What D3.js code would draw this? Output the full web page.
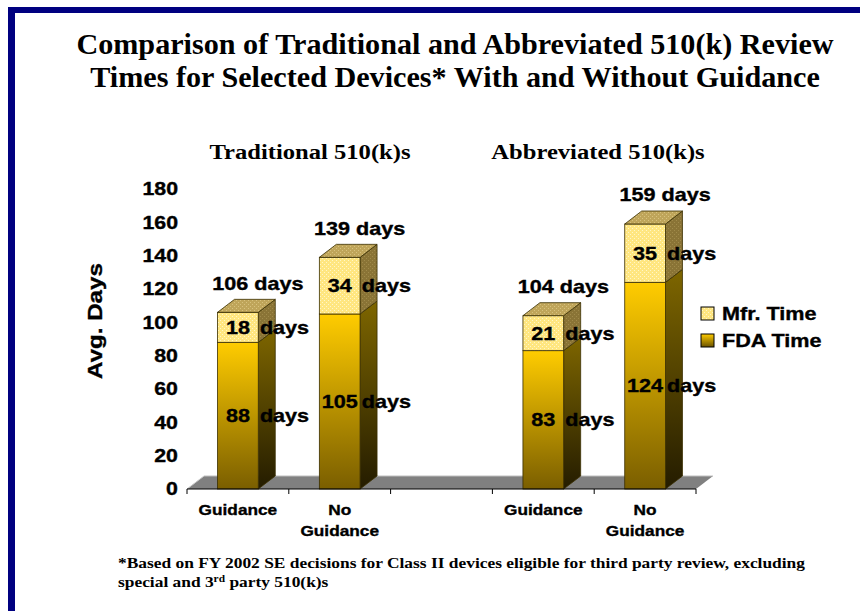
<!DOCTYPE html>
<html>
<head>
<meta charset="utf-8">
<script src="https://cdn.jsdelivr.net/npm/d3@7/dist/d3.min.js"></script>
<style>
  html, body { margin: 0; padding: 0; background: #fff; }
  svg { display: block; }
</style>
</head>
<body>
<svg id="chart" width="860" height="611"></svg>
<script>
// Chart data
const categories = ['Guidance', 'No Guidance', '', 'Guidance', 'No Guidance'];
const groupTitles = ['Traditional 510(k)s', 'Abbreviated 510(k)s'];
const fdaTime = [88, 105, null, 83, 124];
const mfrTime = [18, 34, null, 21, 35];
const totalDays = [106, 139, null, 104, 159];
const yTicks = [0, 20, 40, 60, 80, 100, 120, 140, 160, 180];
const seriesNames = ['Mfr. Time', 'FDA Time'];

const svg = d3.select('#chart');
const W = 860, H = 611;
const SANS = '"Liberation Sans", Arial, sans-serif';
const SERIF = '"Liberation Serif", "Times New Roman", serif';

// frame
svg.append('rect').attr('x', 8).attr('y', 7).attr('width', W - 8).attr('height', 6).attr('fill', '#000080');
svg.append('rect').attr('x', 8).attr('y', 7).attr('width', 7).attr('height', H - 7).attr('fill', '#000080');

// scales
const x = d3.scaleBand().domain(d3.range(categories.length)).range([187, 696]);
const y = d3.scaleLinear().domain([0, 180]).range([489, 189]);
const barW = x.bandwidth() * 0.4;
const depthX = 17, depthY = -13;

// stretched text helper (the source glyphs are wider than normal)
function label(g, px, py, txt, size, sx, anchor, family) {
    const t = g.append('text')
        .attr('transform', `translate(${px},${py}) scale(${sx},1)`)
        .attr('text-anchor', anchor)
        .attr('dominant-baseline', 'central')
        .attr('font-family', family || SANS)
        .attr('font-weight', 'bold')
        .attr('font-size', size)
        .attr('fill', '#000')
        .text(txt);
    if (!family) t.attr('stroke', '#000').attr('stroke-width', 0.35);
    return t;
}

// title
label(svg, 455, 44, 'Comparison of Traditional and Abbreviated 510(k) Review', 29, 1.04, 'middle', SERIF);
label(svg, 455, 77, 'Times for Selected Devices* With and Without Guidance', 29, 1.04, 'middle', SERIF);

// defs: dotted fills and gradients
const defs = svg.append('defs');
function dots(id, base, dot) {
    const p = defs.append('pattern').attr('id', id).attr('width', 4).attr('height', 4)
        .attr('patternUnits', 'userSpaceOnUse');
    p.append('rect').attr('width', 4).attr('height', 4).attr('fill', base);
    p.append('rect').attr('x', 0).attr('y', 0).attr('width', 1).attr('height', 1).attr('fill', dot);
    p.append('rect').attr('x', 2).attr('y', 2).attr('width', 1).attr('height', 1).attr('fill', dot);
}
dots('mfrFront', '#FFE680', '#FFF6C8');
dots('mfrTop', '#BFA55A', '#D8C27E');
dots('mfrSide', '#8A7436', '#A08A4A');

function vgrad(id, top, bottom) {
    const g = defs.append('linearGradient').attr('id', id)
        .attr('x1', 0).attr('y1', 0).attr('x2', 0).attr('y2', 1);
    g.append('stop').attr('offset', '0%').attr('stop-color', top);
    g.append('stop').attr('offset', '100%').attr('stop-color', bottom);
}
vgrad('fdaFront', '#FFCC00', '#7A5E00');
vgrad('fdaSide', '#7E6600', '#241C00');
vgrad('fdaLegend', '#FFCC00', '#6A5200');

// floor
const x0 = x.range()[0], x1 = x.range()[1], yb = y(0);
svg.append('polygon')
    .attr('points', [[x0, yb], [x1, yb], [x1 + depthX, yb + depthY], [x0 + depthX, yb + depthY]].join(' '))
    .attr('fill', '#808080');
svg.append('line')
    .attr('x1', x0).attr('y1', yb).attr('x2', x0 + depthX).attr('y2', yb + depthY)
    .attr('stroke', '#C8C8C8').attr('stroke-width', 1);
svg.append('line')
    .attr('x1', x0 + depthX).attr('y1', yb + depthY).attr('x2', x1 + depthX).attr('y2', yb + depthY)
    .attr('stroke', '#BEBEBE').attr('stroke-width', 1);

// bars
const bars = svg.append('g');
const edge = '#3A2E00';
categories.forEach((c, i) => {
    if (fdaTime[i] == null) return;
    const bx = x(i) + (x.bandwidth() - barW) / 2;
    const segs = [
        { lo: 0, hi: fdaTime[i], front: 'url(#fdaFront)', side: 'url(#fdaSide)' },
        { lo: fdaTime[i], hi: fdaTime[i] + mfrTime[i], front: 'url(#mfrFront)', side: 'url(#mfrSide)' }
    ];
    segs.forEach(s => {
        const yt = y(s.hi), ybot = y(s.lo);
        bars.append('polygon')
            .attr('points', [[bx + barW, yt], [bx + barW + depthX, yt + depthY],
                [bx + barW + depthX, ybot + depthY], [bx + barW, ybot]].join(' '))
            .attr('fill', s.side).attr('stroke', edge).attr('stroke-width', 0.8);
        bars.append('rect')
            .attr('x', bx).attr('y', yt).attr('width', barW).attr('height', ybot - yt)
            .attr('fill', s.front).attr('stroke', edge).attr('stroke-width', 0.8);
    });
    const yt = y(totalDays[i]);
    bars.append('polygon')
        .attr('points', [[bx, yt], [bx + depthX, yt + depthY], [bx + barW + depthX, yt + depthY], [bx + barW, yt]].join(' '))
        .attr('fill', 'url(#mfrTop)').attr('stroke', edge).attr('stroke-width', 0.8);

    // segment labels
    const cx = bx + barW / 2;
    [[fdaTime[i], 0, fdaTime[i]], [mfrTime[i], fdaTime[i], totalDays[i]]].forEach(([v, lo, hi]) => {
        const my = (y(lo) + y(hi)) / 2;
        label(bars, cx, my, v, 18, 1.2, 'middle');
        label(bars, cx + 22, my, 'days', 18, 1.2, 'start');
    });
    // total label
    label(bars, cx + 20, yt - 29, totalDays[i] + ' days', 18, 1.2, 'middle');
});

// x axis line and ticks
const axis = svg.append('g');
axis.append('line').attr('x1', x0).attr('x2', x1).attr('y1', yb).attr('y2', yb)
    .attr('stroke', '#000').attr('stroke-width', 1.2);
d3.range(categories.length + 1).forEach(k => {
    const tx = x0 + k * x.step();
    axis.append('line').attr('x1', tx).attr('x2', tx).attr('y1', yb).attr('y2', yb + 5)
        .attr('stroke', '#000').attr('stroke-width', 1);
});
categories.forEach((c, i) => {
    if (!c) return;
    const cx = x(i) + x.bandwidth() / 2;
    const words = c === 'No Guidance' ? ['No', 'Guidance'] : [c];
    words.forEach((w, k) => label(axis, cx, 509 + k * 21, w, 15, 1.15, 'middle'));
});

// y tick labels
yTicks.forEach(t => label(svg, 178, y(t), t, 17.5, 1.22, 'end'));
label(svg.append('g').attr('transform', 'translate(95,321) rotate(-90)'), 0, 0, 'Avg. Days', 21, 1.15, 'middle');

// group titles, centred over each pair of bars
const groupCentres = [310, 598];
groupTitles.forEach((t, g) => {
    label(svg, groupCentres[g], 152, t, 20.5, 1.2, 'middle', SERIF);
});

// legend
const legend = svg.append('g');
const legendFills = ['url(#mfrFront)', 'url(#fdaLegend)'];
seriesNames.forEach((n, k) => {
    const ly = 314 + k * 27;
    legend.append('rect').attr('x', 701).attr('y', ly - 7).attr('width', 13).attr('height', 13)
        .attr('fill', legendFills[k]).attr('stroke', '#000').attr('stroke-width', 1);
    label(legend, 722, ly, n, 18, 1.2, 'start');
});

// footnote
const foot = svg.append('text')
    .attr('transform', 'translate(118,0) scale(1.2,1)')
    .attr('font-family', SERIF).attr('font-weight', 'bold').attr('font-size', 14.5).attr('fill', '#000');
foot.append('tspan').attr('x', 0).attr('y', 568)
    .text('*Based on FY 2002 SE decisions for Class II devices eligible for third party review, excluding');
const l2 = foot.append('tspan').attr('x', 0).attr('y', 587);
l2.append('tspan').text('special and 3');
l2.append('tspan').attr('font-size', 9.5).attr('dy', -5).text('rd');
l2.append('tspan').attr('dy', 5).text(' party 510(k)s');
</script>
</body>
</html>
